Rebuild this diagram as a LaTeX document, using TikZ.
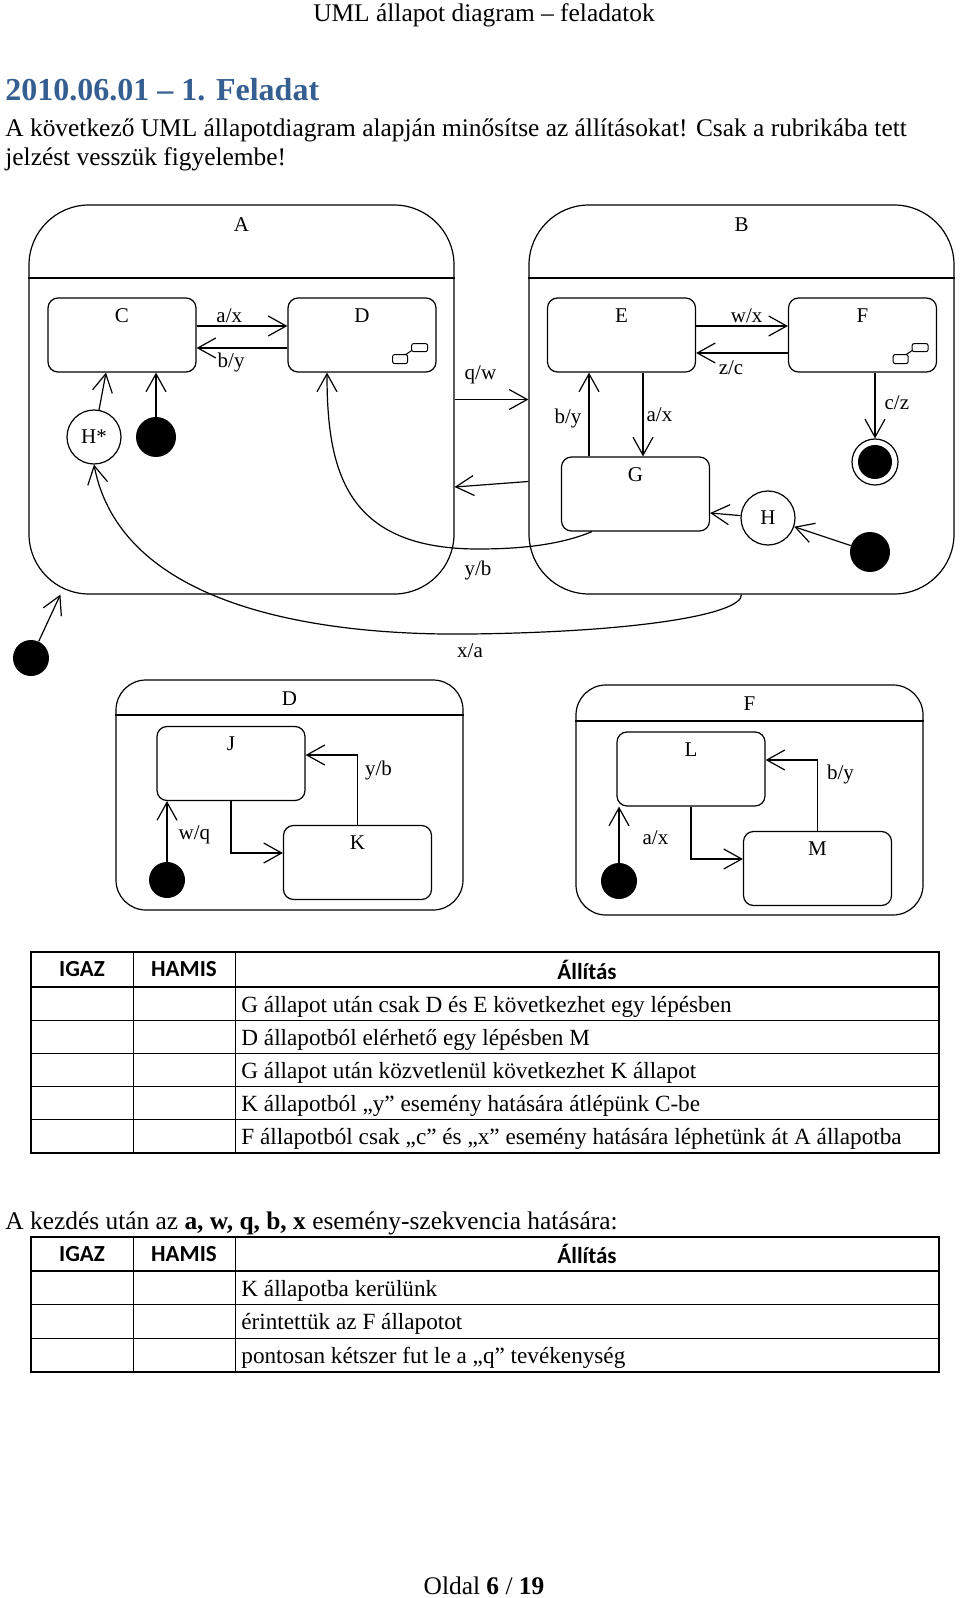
\documentclass[tikz,border=0pt]{standalone}
\usepackage{fontspec}
\setmainfont{Liberation Serif}
\newfontfamily\calibri{Carlito}
\usetikzlibrary{arrows.meta, positioning, calc}
\definecolor{headblue}{HTML}{365F91}
\newcommand{\dlbl}{\fontsize{10.5}{12}\selectfont}
\newcommand{\bodysize}{\fontsize{12.7}{15}\selectfont}
\newcommand{\rowsize}{\fontsize{11.6}{14}\selectfont}
\tikzstyle{statebox} = [draw, rectangle, rounded corners=5pt, minimum width=74pt, minimum height=37pt, inner sep=0pt, line width=0.6pt]
\tikzstyle{compbox} = [draw, rectangle, rounded corners=30pt, minimum width=212.5pt, minimum height=194.5pt, inner sep=0pt, line width=0.6pt]
\tikzstyle{subbox} = [compbox, rounded corners=15pt, minimum width=173.5pt, minimum height=115pt]
\tikzstyle{toplbl} = [font=\dlbl, anchor=north, yshift=-2pt]
\tikzstyle{initdot} = [circle, fill=black, minimum size=20pt, inner sep=0pt]
\tikzstyle{histnode} = [draw, circle, minimum size=27pt, inner sep=0pt, line width=0.6pt, font=\dlbl]
\tikzstyle{trans} = [line width=0.6pt, -{Straight Barb[length=9pt, width=10pt, line width=0.6pt]}]
\tikzstyle{evt} = [font=\dlbl, inner sep=1.5pt]
\tikzstyle{bodytxt} = [font=\bodysize, anchor=west, inner sep=0pt]
\tikzstyle{rowtxt} = [font=\rowsize, anchor=west, inner sep=0pt]
\tikzstyle{headtxt} = [font=\calibri\bfseries\fontsize{11.5}{13}\selectfont, inner sep=0pt]
% small sub-machine icon in the corner of a state
\newcommand{\decompicon}[1]{%
  \draw[line width=0.5pt, rounded corners=1pt] ([shift={(-44,-18)}]#1.south east) rectangle ([shift={(-29,-9)}]#1.south east);
  \draw[line width=0.5pt, rounded corners=1pt] ([shift={(-25,-29)}]#1.south east) rectangle ([shift={(-9,-21)}]#1.south east);
  \draw[line width=0.5pt] ([shift={(-31,-18)}]#1.south east) -- ([shift={(-25,-22)}]#1.south east);}

\begin{document}
\begin{tikzpicture}[x=0.5pt, y=-0.5pt]
    \fill[white] (0,0) rectangle (960,1598);
    \useasboundingbox (0,0) rectangle (960,1598);

    % page text
    \node[font=\bodysize, inner sep=0pt] (pagehead) at (484,15) {UML állapot diagram – feladatok};
    \node[bodytxt, font=\bfseries\fontsize{16}{19}\selectfont, text=headblue] (title) at (5,90) {2010.06.01 – 1. Feladat};
    \node[bodytxt] (intro1) at (5,130) {A következő UML állapotdiagram alapján minősítse az állításokat! Csak a rubrikába tett};
    \node[bodytxt] (intro2) at (5,159) {jelzést vesszük figyelembe!};

    % composite states A and B
    \node (A) [compbox, label={[toplbl, yshift=-1pt]north:A}] at (241.5,399.5) {};
    \node (B) [compbox, label={[toplbl, yshift=-1pt]north:B}] at (741.5,399.5) {};
    \draw[line width=0.6pt] (A.west |- 0,278) -- (A.east |- 0,278);
    \draw[line width=0.6pt] (B.west |- 0,278) -- (B.east |- 0,278);

    \node (C) [statebox, label={[toplbl]north:C}] at (122,335) {};
    \node (D) [statebox, label={[toplbl]north:D}] at (362,335) {};
    \node (E) [statebox, label={[toplbl]north:E}] at (621.5,335) {};
    \node (F) [statebox, label={[toplbl]north:F}] at (862.5,335) {};
    \node (G) [statebox, label={[toplbl]north:G}] at (635.5,494) {};
    \decompicon{D}
    \decompicon{F}

    \node (hstar) [histnode] at (94,437) {H*};
    \node (initA) [initdot] at (156,437) {};
    \node (hist) [histnode] at (768,518) {H};
    \node (initB) [initdot] at (870,552) {};
    \node (final) [draw, circle, minimum size=23pt, inner sep=0pt, line width=0.6pt] at (875,462) {};
    \node (finalc) [initdot, minimum size=17pt] at (final) {};
    \node (initTop) [initdot, minimum size=18pt] at (31,658) {};

    % transitions inside A
    \draw [trans] ([yshift=4.5pt]C.east) -- ([yshift=4.5pt]D.west) node[evt, pos=0.36, above] {a/x};
    \draw [trans] ([yshift=-6.5pt]D.west) -- ([yshift=-6.5pt]C.east) node[evt, pos=0.62, below=0.5pt] {b/y};
    \draw [trans] (hstar) -- ([xshift=-8pt]C.south);
    \draw [trans] (initA) -- (initA |- C.south);

    % transitions inside B
    \draw [trans] ([yshift=4.5pt]E.east) -- ([yshift=4.5pt]F.west) node[evt, pos=0.55, above] {w/x};
    \draw [trans] ([yshift=-9pt]F.west) -- ([yshift=-9pt]E.east) node[evt, pos=0.62, below=2pt] {z/c};
    \draw [trans] ([xshift=10.75pt]E.south) -- ([xshift=10.75pt]E.south |- G.north) node[evt, midway, right] {a/x};
    \draw [trans] ([xshift=-23.25pt]G.north) -- ([xshift=-23.25pt]G.north |- E.south) node[evt, pos=0.45, left=2pt] {b/y};
    \draw [trans] (final |- F.south) -- (final) node[evt, pos=0.45, right=3pt] {c/z};
    \draw [trans] (hist) -- ([yshift=-9.5pt]G.east);
    \draw [trans] (initB) -- (hist);

    % transitions between A and B
    \draw [trans] (A.east) -- (B.west) node[evt, pos=0.35, above=6pt] {q/w};
    \draw [trans] ([yshift=-41pt]B.west) -- ([yshift=-43.75pt]A.east);
    \draw [trans] ([xshift=-21.75pt]G.south) .. controls (560,545) and (520,549) .. (478,549) node[evt, below=4pt] {y/b}
        .. controls (345,549) and (327,470) .. ([xshift=-17.5pt]D.south);
    \draw [trans] (B.south) .. controls (742,614) and (640,632) .. (470,634) node[evt, below=3pt] {x/a}
        .. controls (300,636) and (120,600) .. (hstar.south);
    \draw [trans] (initTop) -- ([xshift=16pt]A.south west);

    % submachine D
    \node (subD) [subbox, label={[toplbl, yshift=-0.5pt]north:D}] at (289.5,795) {};
    \draw[line width=0.6pt] (subD.west |- 0,715) -- (subD.east |- 0,715);
    \node (J) [statebox, label={[toplbl]north:J}] at (231,763.5) {};
    \node (K) [statebox, label={[toplbl]north:K}] at (357.5,862.5) {};
    \node (initD) [initdot, minimum size=18pt] at (167,880) {};
    \draw [trans] (J.south) |- ([yshift=4.75pt]K.west);
    \draw [trans] (K.north) |- ([yshift=4.25pt]J.east) node[evt, pos=0.39, right=2pt] {y/b};
    \draw [trans] (initD) -- (initD |- J.south) node[evt, pos=0.45, right=4pt] {w/q};

    % submachine F
    \node (subF) [subbox, label={[toplbl, yshift=-0.5pt]north:F}] at (749.5,800) {};
    \draw[line width=0.6pt] (subF.west |- 0,721) -- (subF.east |- 0,721);
    \node (L) [statebox, label={[toplbl]north:L}] at (691,769) {};
    \node (M) [statebox, label={[toplbl]north:M}] at (817.5,868.5) {};
    \node (initF) [initdot, minimum size=18pt] at (619,881) {};
    \draw [trans] (L.south) |- ([yshift=4.75pt]M.west);
    \draw [trans] (M.north) |- ([yshift=4.5pt]L.east) node[evt, pos=0.4, right=3pt] {b/y};
    \draw [trans] (initF) -- (initF |- L.south) node[evt, pos=0.45, right=10pt] {a/x};

    % first table
    \draw[line width=1pt] (31,952) rectangle (939,1153);
    \draw[line width=1pt] (31,987) -- (939,987);
    \foreach \y in {1020,1053,1086,1119}
        \draw[line width=0.5pt] (31,\y) -- (939,\y);
    \foreach \x in {133,235}
        \draw[line width=0.5pt] (\x,952) -- (\x,1153);
    \node[headtxt] (igaz1) at (82,969.5) {IGAZ};
    \node[headtxt] (hamis1) at (184,969.5) {HAMIS};
    \node[headtxt] (allit1) at (587,969.5) {Állítás};
    \node[rowtxt] (r11) at (241,1006.5) {G állapot után csak D és E következhet egy lépésben};
    \node[rowtxt] (r12) at (241,1039.5) {D állapotból elérhető egy lépésben M};
    \node[rowtxt] (r13) at (241,1072.5) {G állapot után közvetlenül következhet K állapot};
    \node[rowtxt] (r14) at (241,1105.5) {K állapotból „y” esemény hatására átlépünk C-be};
    \node[rowtxt] (r15) at (241,1139) {F állapotból csak „c” és „x” esemény hatására léphetünk át A állapotba};

    % second table
    \node[bodytxt] (seq) at (5,1223) {A kezdés után az \textbf{a, w, q, b, x} esemény-szekvencia hatására:};
    \draw[line width=1pt] (31,1237) rectangle (939,1372);
    \draw[line width=1pt] (31,1271) -- (939,1271);
    \foreach \y in {1304,1338}
        \draw[line width=0.5pt] (31,\y) -- (939,\y);
    \foreach \x in {133,235}
        \draw[line width=0.5pt] (\x,1237) -- (\x,1372);
    \node[headtxt] (igaz2) at (82,1254) {IGAZ};
    \node[headtxt] (hamis2) at (184,1254) {HAMIS};
    \node[headtxt] (allit2) at (587,1254) {Állítás};
    \node[rowtxt] (r21) at (241,1290.5) {K állapotba kerülünk};
    \node[rowtxt] (r22) at (241,1324) {érintettük az F állapotot};
    \node[rowtxt] (r23) at (241,1358) {pontosan kétszer fut le a „q” tevékenység};

    % footer
    \node[font=\bodysize, inner sep=0pt] (footer) at (484,1586) {Oldal \textbf{6} / \textbf{19}};
\end{tikzpicture}
\end{document}
